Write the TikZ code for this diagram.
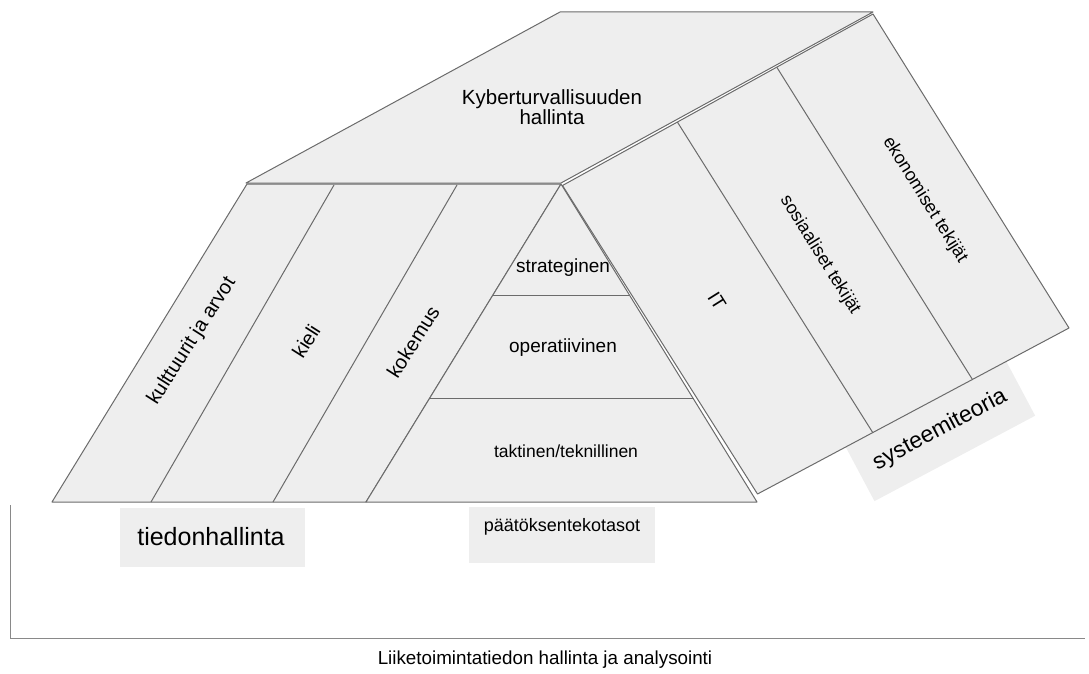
\documentclass[tikz,border=0pt]{standalone}
\usepackage{fontspec}
\setmainfont{Liberation Sans}
\usetikzlibrary{calc}
\definecolor{facefill}{HTML}{EEEEEE}
\definecolor{edge}{HTML}{6B6B6B}
\newcommand{\fsz}[2]{\fontsize{#1}{#2}\selectfont}
\tikzset{
  face/.style={fill=facefill, draw=edge, line width=1pt, line join=round},
  divider/.style={draw=edge, line width=1pt},
  lbl/.style={inner sep=0pt, font=\fsz{19}{21}},
  tagbox/.style={fill=facefill, inner sep=0pt},
}
\begin{document}
\begin{tikzpicture}[x=1pt, y=-1pt]
\useasboundingbox (0,0) rectangle (1089,674);

% label box tucked under the right face
\node[tagbox, minimum width=182pt, minimum height=61pt, rotate=28] (sysbox) at (940.5,431.5) {};

% roof top
\coordinate (T1) at (246,183);
\coordinate (T2) at (560,12);
\coordinate (T3) at (873,12);
\coordinate (T4) at (561,183);
\draw[face] (T1) -- (T2) -- (T3) -- (T4) -- cycle;

% left face with its stripes
\coordinate (L1) at (247,184);
\coordinate (L2) at (561,184);
\coordinate (L3) at (366,502);
\coordinate (L4) at (52,502);
\draw[face] (L1) -- (L2) -- (L3) -- (L4) -- cycle;
\coordinate (S1a) at (334,185); \coordinate (S1b) at (151,502);
\coordinate (S2a) at (457,185); \coordinate (S2b) at (273,502);
\draw[divider] (S1a) -- (S1b);
\draw[divider] (S2a) -- (S2b);

% right face with its stripes
\coordinate (R1) at (562.5,185.5);
\coordinate (R2) at (873,14);
\coordinate (R3) at (1069,328);
\coordinate (R4) at (757.5,494);
\draw[face] (R1) -- (R2) -- (R3) -- (R4) -- cycle;
\draw[divider] ($(R1)!0.37!(R2)$) -- ($(R4)!0.37!(R3)$);
\draw[divider] ($(R1)!0.69!(R2)$) -- ($(R4)!0.69!(R3)$);

% decision-level pyramid
\coordinate (P1) at (561,184);
\coordinate (P2) at (366,502);
\coordinate (P3) at (757,502);
\draw[face] (P1) -- (P2) -- (P3) -- cycle;
\draw[divider] ($(P1)!0.352!(P2)$) -- ($(P1)!0.352!(P3)$);
\draw[divider] ($(P1)!0.676!(P2)$) -- ($(P1)!0.676!(P3)$);

% tag boxes below the base
\node[tagbox, minimum width=185pt, minimum height=59pt] (tbox) at (212.5,537.5) {};
\node[tagbox, minimum width=186pt, minimum height=56pt] (pbox) at (562,535) {};

% texts
\node[lbl, font=\fsz{20.5}{20}, align=center] (kyber) at (552,107) {Kyberturvallisuuden\\hallinta};
\node[lbl, font=\fsz{20}{22}, rotate=57.5] (kult) at (192,341) {kulttuurit ja arvot};
\node[lbl, font=\fsz{20}{22}, rotate=57.5] (kieli) at (306,341) {kieli};
\node[lbl, font=\fsz{20}{22}, rotate=57.5] (kok) at (413,342) {kokemus};
\node[lbl, rotate=-58] (it) at (717,301) {IT};
\node[lbl, font=\fsz{18}{20}, rotate=-58] (sos) at (820,255) {sosiaaliset tekijät};
\node[lbl, font=\fsz{18}{20}, rotate=-58] (eko) at (925,200) {ekonomiset tekijät};
\node[lbl] (strat) at (563,268) {strateginen};
\node[lbl] (oper) at (563,348) {operatiivinen};
\node[lbl, font=\fsz{17.5}{20}] (takt) at (566,451) {taktinen/teknillinen};
\node[lbl, font=\fsz{25}{28}] (tied) at (211,537) {tiedonhallinta};
\node[lbl, font=\fsz{18}{20}] (paat) at (562,527) {päätöksentekotasot};
\node[lbl, font=\fsz{23}{26}, rotate=28] (sys) at (940,430) {systeemiteoria};

% outer bracket and caption
\coordinate (B1) at (10,505);
\coordinate (B2) at (10,638);
\coordinate (B3) at (1085,638);
\draw[draw=edge!80, line width=1pt] (B1) -- (B2) -- (B3);
\node[lbl, font=\fsz{18.8}{21}] (cap) at (545,660) {Liiketoimintatiedon hallinta ja analysointi};
\end{tikzpicture}
\end{document}
